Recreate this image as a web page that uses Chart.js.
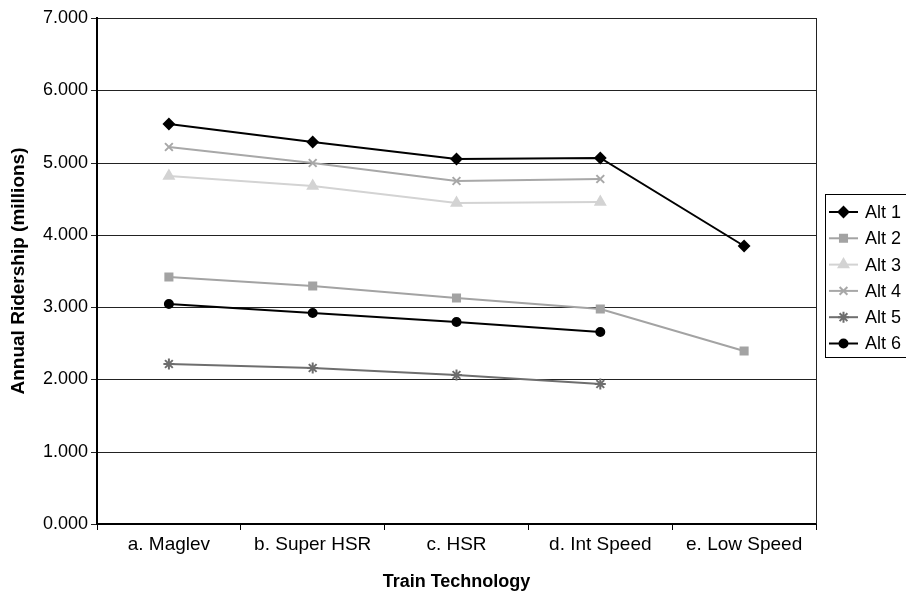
<!DOCTYPE html>
<html>
<head>
<meta charset="utf-8">
<script src="https://cdn.jsdelivr.net/npm/chart.js@4"></script>
<style>
  html, body { margin: 0; padding: 0; background: #fff; }
  #chart { display: block; }
</style>
</head>
<body>
<canvas id="chart" width="906" height="597"></canvas>
<script>
// Chart data
const categories = ['a. Maglev', 'b. Super HSR', 'c. HSR', 'd. Int Speed', 'e. Low Speed'];
const alt1 = [5.54, 5.29, 5.05, 5.06, 3.84];
const alt2 = [3.42, 3.29, 3.12, 2.98, 2.40];
const alt3 = [4.82, 4.68, 4.44, 4.46, null];
const alt4 = [5.22, 5.00, 4.75, 4.77, null];
const alt5 = [2.21, 2.16, 2.06, 1.93, null];
const alt6 = [3.04, 2.92, 2.80, 2.65, null];
const yTickLabels = ['0.000', '1.000', '2.000', '3.000', '4.000', '5.000', '6.000', '7.000'];

const FONT = '"Liberation Sans", Arial, sans-serif';

function series(label, data, color, style, radius) {
    return {
        label: label,
        data: data,
        borderColor: color,
        backgroundColor: color,
        borderWidth: 2,
        pointStyle: style,
        pointRadius: radius,
        pointBackgroundColor: color,
        pointBorderColor: color,
        pointBorderWidth: 2,
        tension: 0,
        spanGaps: false
    };
}

const datasets = [
    series('Alt 1', alt1, '#000000', 'rectRot', 5),
    series('Alt 2', alt2, '#a3a3a3', 'rect', 5),
    series('Alt 3', alt3, '#d3d3d3', 'triangle', 5.5),
    series('Alt 4', alt4, '#a8a8a8', 'crossRot', 5.5),
    series('Alt 5', alt5, '#6e6e6e', 'star', 5.5),
    series('Alt 6', alt6, '#000000', 'circle', 4)
];

// Plot-area right border + legend box
const extras = {
    id: 'extras',
    afterDraw(chart) {
        const ctx = chart.ctx;
        const area = chart.chartArea;
        ctx.save();
        ctx.strokeStyle = '#222';
        ctx.lineWidth = 1;
        ctx.beginPath();
        ctx.moveTo(Math.round(area.right) + 0.5, area.top);
        ctx.lineTo(Math.round(area.right) + 0.5, area.bottom);
        ctx.stroke();

        // legend
        ctx.strokeStyle = '#000';
        ctx.strokeRect(825.5, 194.5, 120, 163);
        ctx.font = '18px ' + FONT;
        ctx.textBaseline = 'middle';
        ctx.textAlign = 'left';
        chart.data.datasets.forEach((ds, i) => {
            const y = 212 + i * 26.3;
            ctx.strokeStyle = ds.borderColor;
            ctx.fillStyle = ds.borderColor;
            ctx.lineWidth = 2;
            ctx.beginPath();
            ctx.moveTo(829, y);
            ctx.lineTo(858, y);
            ctx.stroke();
            Chart.helpers.drawPoint(ctx, {
                pointStyle: ds.pointStyle,
                radius: ds.pointRadius,
                rotation: 0,
                borderWidth: 2
            }, 843.5, y);
            ctx.fillStyle = '#000';
            ctx.fillText(ds.label, 865, y + 1);
        });
        ctx.restore();
    }
};

const ctx = document.getElementById('chart').getContext('2d');
new Chart(ctx, {
    type: 'line',
    data: { labels: categories, datasets: datasets },
    options: {
        responsive: false,
        animation: false,
        devicePixelRatio: 1,
        layout: { padding: { top: 18, right: 90, left: 0, bottom: 0 } },
        plugins: {
            legend: { display: false },
            tooltip: { enabled: false }
        },
        scales: {
            x: {
                offset: true,
                grid: {
                    offset: true,
                    drawOnChartArea: false,
                    drawTicks: true,
                    tickLength: 6,
                    color: '#000',
                    lineWidth: 1
                },
                border: { display: true, color: '#000', width: 2 },
                ticks: {
                    color: '#000',
                    font: { family: FONT, size: 19 },
                    padding: 3,
                    maxRotation: 0,
                    autoSkip: false
                },
                title: {
                    display: true,
                    text: 'Train Technology',
                    color: '#000',
                    font: { family: FONT, size: 18, weight: 'bold' },
                    padding: { top: 4, bottom: 4 }
                },
                afterFit(scale) { scale.height = 73; }
            },
            y: {
                min: 0,
                max: 7,
                alignToPixels: true,
                grid: {
                    color: '#222',
                    lineWidth: 1,
                    drawTicks: true,
                    tickLength: 6
                },
                border: { display: true, color: '#000', width: 2 },
                ticks: {
                    stepSize: 1,
                    color: '#000',
                    font: { family: FONT, size: 18 },
                    padding: 3,
                    callback: (v, i) => yTickLabels[i]
                },
                title: {
                    display: true,
                    text: 'Annual Ridership (millions)',
                    color: '#000',
                    font: { family: FONT, size: 19, weight: 'bold' },
                    padding: { top: 7, bottom: 4 }
                },
                afterFit(scale) { scale.width = 97; }
            }
        }
    },
    plugins: [extras]
});
</script>
</body>
</html>
